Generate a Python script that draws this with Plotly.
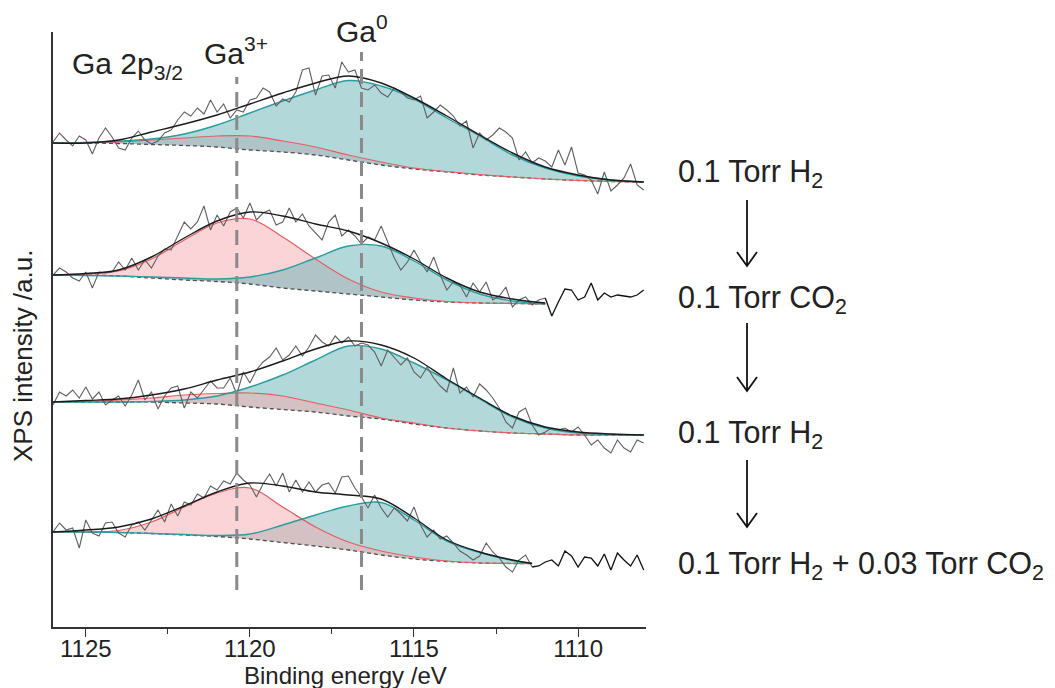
import numpy as np
import plotly.graph_objects as go

FONT = "Liberation Sans, Arial, sans-serif"

# ---------------- data (binding energy in eV, intensity in a.u. incl. stacking offset) ----------------
E_RAW = np.linspace(1126.0, 1108.0, 91)

E_FIT_FULL = [1126, 1125, 1124, 1123, 1122, 1121, 1120, 1119, 1118, 1117,
              1116, 1115, 1114, 1113, 1112, 1111, 1110, 1109, 1108]
E_FIT_CO2 = [1126, 1125, 1124, 1123, 1122, 1121, 1120, 1119, 1118, 1117,
             1116, 1115, 1114, 1113, 1112, 1111]
E_FIT_MIX = [1126, 1125, 1124, 1123, 1122, 1121, 1120, 1119, 1118, 1117,
             1116, 1115, 1114, 1113, 1112, 1111.4]

# spectrum 1 : 0.1 Torr H2
raw_h2_a = [485, 494, 487, 481, 491, 487, 473, 489, 499, 490,
            479, 477, 489, 496, 487, 483, 486, 494, 497, 507,
            515, 511, 519, 513, 527, 515, 523, 509, 517, 515,
            527, 529, 539, 535, 521, 528, 525, 535, 557, 559,
            532, 551, 552, 539, 565, 555, 557, 539, 537, 542,
            534, 530, 539, 535, 529, 527, 531, 509, 515, 522,
            517, 511, 501, 506, 479, 494, 487, 492, 499, 495,
            489, 467, 475, 464, 469, 466, 460, 477, 462, 480,
            454, 452, 447, 433, 455, 436, 442, 449, 463, 442,
            437]
base_h2_a = [484, 484, 483.5, 482.5, 481.5, 480, 477, 475, 472, 467, 462, 458, 455, 452, 450, 448, 446.5, 445.5, 445]
ga3_h2_a = [484, 484.5, 485, 487, 489, 491, 491, 486, 480, 472, 465, 459, 455.5, 452.5, 450, 448, 446.5, 445.5, 445]
ga0_h2_a = [484, 484.5, 486, 488, 493, 502, 514, 526, 537, 546.5, 541, 528, 509, 491, 472, 459, 451, 447, 445]
env_h2_a = [484, 484, 487, 495, 503, 512, 523, 534, 544, 551, 544, 529, 511, 492, 474, 460, 452, 447, 445]

# spectrum 2 : 0.1 Torr CO2
raw_co2 = [352, 359, 355, 349, 346, 355, 339, 355, 354, 355,
           365, 357, 369, 357, 367, 359, 371, 378, 377, 391,
           405, 398, 405, 421, 397, 412, 401, 415, 419, 409,
           424, 407, 414, 417, 402, 405, 419, 405, 413, 401,
           394, 387, 405, 412, 391, 397, 391, 383, 390, 387,
           401, 384, 369, 357, 365, 377, 365, 355, 370, 352,
           337, 345, 342, 330, 344, 335, 345, 327, 331, 340,
           320, 327, 330, 322, 327, 329, 311, 325, 338, 337,
           327, 330, 344, 327, 334, 330, 332, 331, 330, 332,
           337]
base_co2 = [352, 352, 351, 349, 347, 345.5, 343, 339, 336, 333, 330, 327, 325, 324, 323.5, 323]
ga3_co2 = [352, 353, 356, 368, 387, 404, 408, 390, 368, 348, 335, 329, 325.5, 324, 323.5, 323]
ga0_co2 = [352, 351.5, 351, 350, 349, 348, 350, 357, 369, 381, 381, 366, 347, 333, 326, 323]
env_co2 = [352, 353.5, 357, 370, 389, 406, 415, 411, 403, 396, 384, 368, 349, 335, 328, 324]

# spectrum 3 : 0.1 Torr H2
raw_h2_b = [222, 235, 231, 237, 229, 240, 228, 235, 222, 227,
            231, 221, 232, 247, 227, 235, 218, 231, 239, 241,
            219, 235, 229, 237, 246, 239, 239, 249, 233, 255,
            244, 257, 265, 270, 279, 267, 272, 281, 271, 280,
            292, 285, 281, 291, 284, 290, 281, 284, 282, 275,
            261, 277, 269, 262, 269, 255, 249, 260, 249, 241,
            235, 259, 234, 240, 230, 243, 237, 229, 219, 205,
            199, 215, 219, 202, 192, 195, 199, 197, 199, 195,
            200, 192, 182, 187, 179, 174, 187, 179, 175, 187,
            184]
base_h2_b = [225, 225, 225, 225, 224, 223, 220, 217.5, 215, 211, 208, 203, 199, 196, 194, 193, 192, 192, 192]
ga3_h2_b = [225, 225.5, 227, 229, 232, 233.5, 234, 231, 224, 217, 209, 204, 199, 196, 194, 193, 192, 192, 192]
ga0_h2_b = [225, 225, 225, 225.5, 227, 231, 240, 252, 267, 281, 278, 264, 247, 228, 210, 199, 194, 192.5, 192]
env_h2_b = [225, 226.5, 228, 232, 238, 247, 255, 266, 278, 286, 282, 269, 248, 229, 211, 200, 195, 193, 192]

# spectrum 4 : 0.1 Torr H2 + 0.03 Torr CO2
raw_mix = [95, 104, 97, 99, 79, 107, 94, 91, 104, 105,
           94, 90, 102, 105, 97, 107, 117, 105, 123, 111,
           125, 122, 133, 129, 141, 137, 146, 143, 154, 147,
           142, 130, 143, 153, 141, 154, 135, 147, 135, 145,
           135, 142, 144, 134, 150, 151, 139, 130, 119, 132,
           119, 110, 119, 113, 106, 120, 102, 90, 97, 88,
           91, 84, 76, 72, 67, 71, 84, 75, 69, 60,
           55, 67, 72, 60, 61, 65, 67, 61, 76, 71,
           60, 70, 69, 61, 73, 57, 74, 67, 61, 72,
           57]
base_mix = [95, 95, 94.5, 93.5, 92, 90.5, 88, 84.5, 81, 77, 72, 68, 65.5, 64, 63.5, 63.5]
ga3_mix = [95, 95, 96.5, 105, 120, 134, 139, 120, 100, 85, 76, 70, 66, 64, 63.5, 63.5]
ga0_mix = [95, 95, 94.5, 93.5, 92.5, 91.5, 93, 102, 112, 121, 124.5, 107, 86, 74.5, 66.5, 63.5]
env_mix = [95, 97, 100, 108, 121, 135, 144, 141, 135, 132, 128, 109, 87, 75, 67, 63.5]

PEAK_POS = [1120.4, 1116.6]          # Ga3+, Ga0
PEAK_LABELS = ["Ga<sup>3+</sup>", "Ga<sup>0</sup>"]
CONDITIONS = ["0.1 Torr H<sub>2</sub>", "0.1 Torr CO<sub>2</sub>", "0.1 Torr H<sub>2</sub>",
              "0.1 Torr H<sub>2</sub> + 0.03 Torr CO<sub>2</sub>"]
X_TICKS = [1125, 1120, 1115, 1110]

spectra = [
    dict(raw=raw_h2_a, ef=E_FIT_FULL, base=base_h2_a, ga3=ga3_h2_a, ga0=ga0_h2_a, env=env_h2_a, pink_first=True),
    dict(raw=raw_co2, ef=E_FIT_CO2, base=base_co2, ga3=ga3_co2, ga0=ga0_co2, env=env_co2, pink_first=True),
    dict(raw=raw_h2_b, ef=E_FIT_FULL, base=base_h2_b, ga3=ga3_h2_b, ga0=ga0_h2_b, env=env_h2_b, pink_first=False),
    dict(raw=raw_mix, ef=E_FIT_MIX, base=base_mix, ga3=ga3_mix, ga0=ga0_mix, env=env_mix, pink_first=False),
]

# ---------------- styles ----------------
PINK_FILL = "rgba(245,169,173,0.5)"
TEAL_FILL = "rgba(101,177,181,0.5)"
RED_LINE = "#e45f63"
TEAL_LINE = "#2a9d9f"
RAW_GRAY = "#606060"

fig = go.Figure()


def add_fill(ef, base, top, color):
    fig.add_trace(go.Scatter(x=ef, y=base, mode="lines", line=dict(width=0, shape="spline", smoothing=1.0),
                             showlegend=False, hoverinfo="skip"))
    fig.add_trace(go.Scatter(x=ef, y=top, mode="lines", line=dict(width=0, shape="spline", smoothing=1.0),
                             fill="tonexty", fillcolor=color, showlegend=False, hoverinfo="skip"))


for s in spectra:
    ef = s["ef"]
    if s["pink_first"]:
        add_fill(ef, s["base"], s["ga3"], PINK_FILL)
        add_fill(ef, s["base"], s["ga0"], TEAL_FILL)
    else:
        add_fill(ef, s["base"], s["ga0"], TEAL_FILL)
        add_fill(ef, s["base"], s["ga3"], PINK_FILL)

for s in spectra:
    ef = s["ef"]
    fit_end = min(ef)
    raw = np.array(s["raw"], dtype=float)
    gray_mask = E_RAW >= fit_end - 0.11
    black_mask = E_RAW <= fit_end + 0.11
    fig.add_trace(go.Scatter(x=ef, y=s["base"], mode="lines",
                             line=dict(color="#505050", width=1.3, dash="4px,3px", shape="spline"),
                             showlegend=False))
    fig.add_trace(go.Scatter(x=ef, y=s["ga3"], mode="lines",
                             line=dict(color=RED_LINE, width=1.2, shape="spline"), showlegend=False))
    fig.add_trace(go.Scatter(x=ef, y=s["ga0"], mode="lines",
                             line=dict(color=TEAL_LINE, width=1.4, shape="spline"), showlegend=False))
    fig.add_trace(go.Scatter(x=E_RAW[gray_mask], y=raw[gray_mask], mode="lines",
                             line=dict(color=RAW_GRAY, width=1.1), showlegend=False))
    if black_mask.sum() > 1 and fit_end > 1108.5:
        fig.add_trace(go.Scatter(x=E_RAW[black_mask], y=raw[black_mask], mode="lines",
                                 line=dict(color="#111111", width=1.3), showlegend=False))
    fig.add_trace(go.Scatter(x=ef, y=s["env"], mode="lines",
                             line=dict(color="#1a1a1a", width=1.4, shape="spline"), showlegend=False))

# ---------------- layout helpers (pixel -> paper) ----------------
L, R, T, B = 53, 646, 32, 627


def pxx(x):
    return (x - L) / (R - L)


def pxy(y):
    return (B - y) / (B - T)


shapes = []
# vertical reference lines at the Ga3+ and Ga0 positions
for pos, top in zip(PEAK_POS, [550, 575]):
    shapes.append(dict(type="line", xref="x", yref="y", x0=pos, x1=pos, y0=37, y1=top,
                       line=dict(color="#8a8a8a", width=3, dash="15px,8px"), layer="above"))

# arrows between conditions
for y0, y1 in [(200, 266), (323, 391), (460, 527)]:
    shapes.append(dict(type="line", xref="paper", yref="paper", x0=pxx(747), x1=pxx(747),
                       y0=pxy(y0), y1=pxy(y1), line=dict(color="#111", width=1.8)))
    shapes.append(dict(type="path", xref="paper", yref="paper",
                       path=f"M {pxx(737)} {pxy(y1 - 14)} L {pxx(747)} {pxy(y1)} L {pxx(757)} {pxy(y1 - 14)}",
                       line=dict(color="#111", width=1.8)))

annotations = []
# peak labels
annotations.append(dict(text="Ga 2p<sub>3/2</sub>", xref="paper", yref="paper", x=pxx(70), y=pxy(65),
                        xanchor="left", yanchor="middle", showarrow=False,
                        font=dict(family=FONT, size=30, color="#222")))
annotations.append(dict(text=PEAK_LABELS[0], xref="paper", yref="paper", x=pxx(202), y=pxy(51),
                        xanchor="left", yanchor="middle", showarrow=False,
                        font=dict(family=FONT, size=30, color="#222")))
annotations.append(dict(text=PEAK_LABELS[1], xref="paper", yref="paper", x=pxx(334), y=pxy(29),
                        xanchor="left", yanchor="middle", showarrow=False,
                        font=dict(family=FONT, size=30, color="#222")))
# condition labels
for txt, yc in zip(CONDITIONS, [173, 299, 434, 565]):
    annotations.append(dict(text=txt, xref="paper", yref="paper", x=pxx(676), y=pxy(yc),
                            xanchor="left", yanchor="middle", showarrow=False,
                            font=dict(family=FONT, size=30.5, color="#222")))
# axis titles
annotations.append(dict(text="Binding energy /eV", xref="paper", yref="paper", x=0.493, y=pxy(675),
                        xanchor="center", yanchor="middle", showarrow=False,
                        font=dict(family=FONT, size=24, color="#222")))
annotations.append(dict(text="XPS intensity /a.u.", xref="paper", yref="paper", x=pxx(23), y=pxy(356),
                        xanchor="center", yanchor="middle", showarrow=False, textangle=-90,
                        font=dict(family=FONT, size=26, color="#222")))

fig.update_layout(
    width=1055, height=688,
    margin=dict(l=L, r=1055 - R, t=T, b=688 - B),
    paper_bgcolor="white", plot_bgcolor="white",
    showlegend=False,
    shapes=shapes, annotations=annotations,
    xaxis=dict(range=[1126.0, 1107.93], tickvals=X_TICKS, ticks="outside", ticklen=8, tickwidth=1.3,
               tickcolor="#333", showline=True, linecolor="#333", linewidth=1.5, showgrid=False,
               zeroline=False, tickfont=dict(family=FONT, size=24, color="#222"),
               ticklabelstandoff=-9,
               minor=dict(tickvals=[1122.5, 1117.5, 1112.5], ticks="outside", ticklen=5, tickwidth=1.2,
                          tickcolor="#333", showgrid=False)),
    yaxis=dict(range=[0, 595], showticklabels=False, ticks="", showline=True, linecolor="#333",
               linewidth=1.5, showgrid=False, zeroline=False),
)

fig.write_html("out.html")
